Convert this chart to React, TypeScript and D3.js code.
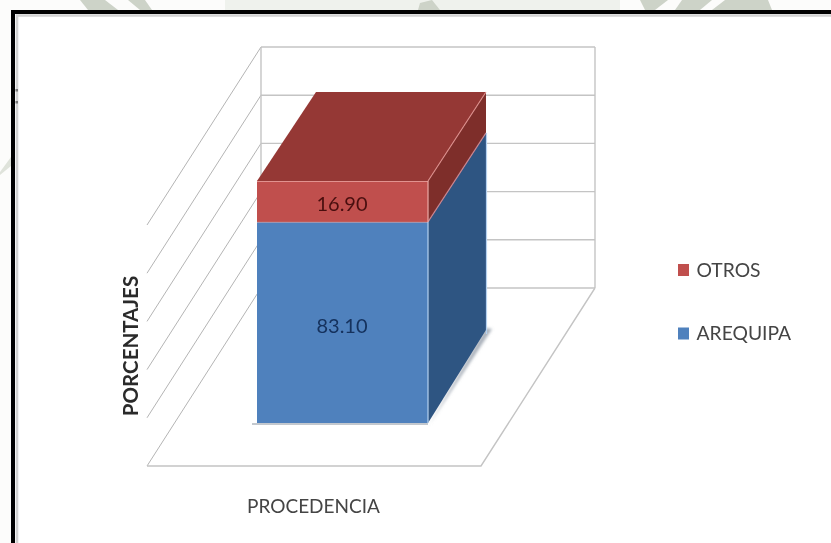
import React from "react";
import * as d3 from "d3";

const seriesNames = ["AREQUIPA", "OTROS"];
const seriesValues = [83.1, 16.9];
const valueLabels = ["83.10", "16.90"];
const frontColors = ["#4f81bd", "#c0504d"];
const sideColors = ["#2f5482", "#7e2f2c"];
const topColor = "#953735";
const gridTicks = [0, 20, 40, 60, 80, 100];

const W = 831, H = 543;
const yFront = d3.scaleLinear().domain([0, 100]).range([423, 181]);
const yBack = d3.scaleLinear().domain([0, 100]).range([288, 47]);
const wall = { left: 261, right: 595, floorDx: -114, floorDy: 178 };
const bar = { x0: 257, x1: 428, dx: 58, dy: -89 };
const pts = (p: number[][]) => p.map((q) => q.join(",")).join(" ");
const FONT = "Lato, 'Open Sans', sans-serif";

export default function App() {
  const stacked = d3.stack().keys(seriesNames)([
    Object.fromEntries(seriesNames.map((n, i) => [n, seriesValues[i]])) as any,
  ]);
  const grid = "#c4c4c4";
  const y0 = yBack(0);
  return (
    <svg width={W} height={H} style={{ position: "fixed", left: 0, top: 0, background: "#fff" }}>
      <defs>
        <filter id="soft" x="-5%" y="-5%" width="110%" height="110%">
          <feGaussianBlur stdDeviation="0.55" />
        </filter>
        <filter id="shadow" x="-30%" y="-30%" width="160%" height="160%">
          <feGaussianBlur stdDeviation="1.6" />
        </filter>
      </defs>
      <rect width={W} height={H} fill="#fcfcfb" />
      {/* faded watermark visible around the frame */}
      <rect x={225} y={0} width={395} height={10} fill="#eff2ed" />
      <g fill="#cdd3c8">
        <polygon points="80,0 105,0 118,10 88,10" />
        <polygon points="128,0 145,0 152,10 140,10" />
        <polygon points="420,3 432,0 440,10 418,10" />
        <polygon points="640,0 668,0 655,10 645,10" />
        <polygon points="682,0 712,0 700,10 675,10" />
        <polygon points="725,0 768,0 772,10 712,10" />
      </g>
      <polygon points="0,172 11,157 11,166 0,175" fill="#dfe3db" />
      <rect x={11} y={10} width={W - 11} height={H - 10} fill="#fff" />
      <g filter="url(#soft)">
        {/* frame */}
        <path d={`M17,${H} V15.5 H${W}`} fill="none" stroke="#d2d2d2" strokeWidth={2.6} />
        <path d={`M13,${H} V12 H${W}`} fill="none" stroke="#000" strokeWidth={4} />
        <rect x={15.5} y={89} width={2.5} height={2.5} fill="#777" />
        <rect x={15.5} y={101} width={2.5} height={2.5} fill="#777" />

        {/* back wall, side wall and floor */}
        {gridTicks.map((t) => (
          <g key={t}>
            <line x1={wall.left} x2={wall.right} y1={yBack(t)} y2={yBack(t)} stroke={grid} strokeWidth={1.4} />
            <line
              x1={wall.left} y1={yBack(t)}
              x2={wall.left + wall.floorDx} y2={yBack(t) + wall.floorDy}
              stroke="#b4b4b4" strokeWidth={1}
            />
          </g>
        ))}
        <line x1={wall.left} x2={wall.left} y1={yBack(100)} y2={y0} stroke={grid} strokeWidth={1.4} />
        <line x1={wall.right} x2={wall.right} y1={yBack(100)} y2={y0} stroke={grid} strokeWidth={1.4} />
        <polyline
          points={pts([
            [wall.left + wall.floorDx, y0 + wall.floorDy],
            [wall.right + wall.floorDx, y0 + wall.floorDy],
            [wall.right, y0],
          ])}
          fill="none" stroke={grid} strokeWidth={1.4}
        />

        {/* floor shadow */}
        <polygon
          filter="url(#shadow)"
          fill="#a9b0ba"
          points={pts([
            [bar.x1 + 1, yFront(0) + 2],
            [bar.x1 + bar.dx + 6, yFront(0) + bar.dy - 5],
            [bar.x1 + bar.dx, yFront(0) + bar.dy - 6],
          ])}
        />
        <line x1={bar.x0 - 5} x2={bar.x1} y1={yFront(0) + 1} y2={yFront(0) + 1} stroke="#c3c8ce" strokeWidth={2} />

        {/* stacked 3D bar */}
        {stacked.map((s, i) => {
          const [a, b] = s[0];
          const yA = yFront(a), yB = yFront(b);
          return (
            <g key={seriesNames[i]}>
              <polygon
                fill={sideColors[i]}
                points={pts([
                  [bar.x1, yA], [bar.x1 + bar.dx, yA + bar.dy - (i === 0 ? 4 : 0)],
                  [bar.x1 + bar.dx, yB + bar.dy], [bar.x1, yB],
                ])}
              />
              <rect x={bar.x0} y={yB} width={bar.x1 - bar.x0} height={yA - yB} fill={frontColors[i]} />
              <line x1={bar.x0} x2={bar.x1} y1={yB} y2={yB} stroke="#eda9a6" strokeWidth={1.3} />
            </g>
          );
        })}
        <polygon
          fill={topColor}
          points={pts([
            [bar.x0, yFront(100)], [bar.x0 + bar.dx + 1, yFront(100) + bar.dy],
            [bar.x1 + bar.dx, yFront(100) + bar.dy], [bar.x1, yFront(100)],
          ])}
        />
        <line x1={bar.x1} y1={yFront(100)} x2={bar.x1 + bar.dx} y2={yFront(100) + bar.dy} stroke="#dc8f8b" strokeWidth={1.1} />
        <line x1={bar.x1} y1={yFront(seriesValues[0])} x2={bar.x1 + bar.dx} y2={yFront(seriesValues[0]) + bar.dy} stroke="#c9858f" strokeWidth={1.1} />
        <line x1={bar.x1} x2={bar.x1} y1={yFront(100)} y2={yFront(seriesValues[0])} stroke="#eda9a6" strokeWidth={1.2} />
        <line x1={bar.x1} x2={bar.x1} y1={yFront(seriesValues[0])} y2={yFront(0)} stroke="#b5d2f0" strokeWidth={1.2} />
        <line x1={bar.x1 + bar.dx + 0.5} x2={bar.x1 + bar.dx + 0.5} y1={yFront(seriesValues[0]) + bar.dy} y2={yFront(0) + bar.dy} stroke="#b5d2f0" strokeWidth={1.2} />

        {/* value labels */}
        <g fontFamily={FONT} fontSize={20} textAnchor="middle">
          <text x={342} y={333} fill="#14305c">{valueLabels[0]}</text>
          <text x={342} y={211} fill="#4a0f10">{valueLabels[1]}</text>
        </g>

        {/* axis titles */}
        <text x={313.5} y={512.5} textAnchor="middle" fontFamily={FONT} fontSize={19} fill="#444">PROCEDENCIA</text>
        <text
          transform="translate(138,346) rotate(-90)"
          textAnchor="middle"
          fontFamily={FONT}
          fontSize={20.5} fontWeight={700} fill="#2a2a2a"
        >PORCENTAJES</text>

        {/* legend */}
        <g fontFamily={FONT} fontSize={19.3} fill="#444">
          {[1, 0].map((i, k) => (
            <g key={seriesNames[i]}>
              <rect x={678} y={264 + k * 63.5} width={11} height={12} fill={frontColors[i]} />
              <text x={696.5} y={277 + k * 63}>{seriesNames[i]}</text>
            </g>
          ))}
        </g>
      </g>
    </svg>
  );
}
